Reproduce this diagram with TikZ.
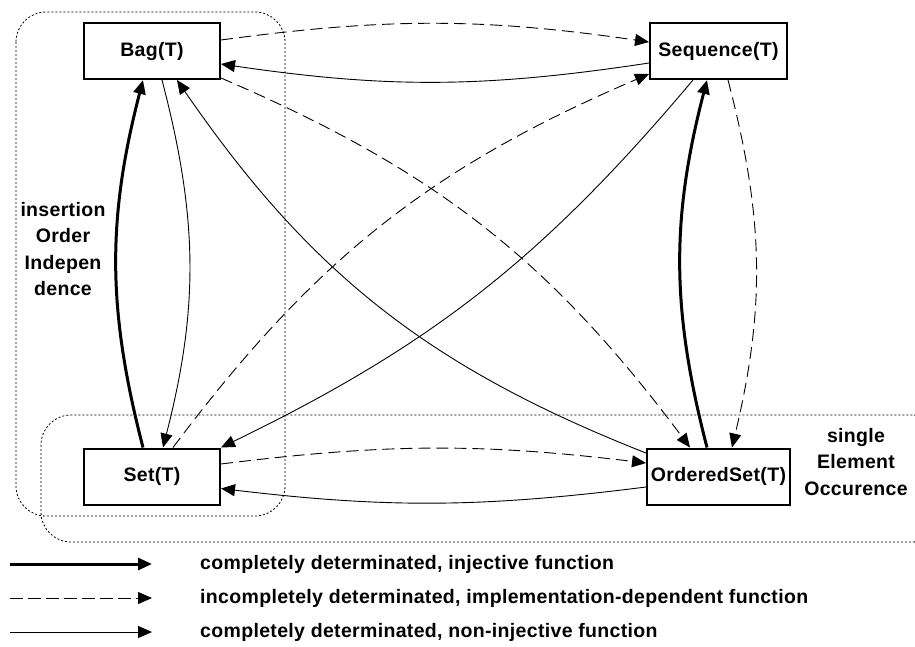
\documentclass[tikz,border=0pt]{standalone}
\usepackage{fontspec}
\setmainfont[LetterSpace=1.7]{Liberation Sans}
\usetikzlibrary{arrows.meta}
\begin{document}
\begin{tikzpicture}[x=1pt,y=-1pt,
  typebox/.style={draw, line width=2pt, minimum width=136pt, minimum height=56pt,
    inner sep=0pt, font=\bfseries\fontsize{19.5}{26}\selectfont},
  tip/.style={-{Triangle[length=14pt,width=12pt]}},
  inj/.style={tip, line width=3pt},
  impl/.style={tip, line width=0.9pt, dash pattern=on 12pt off 6pt},
  noninj/.style={tip, line width=0.9pt},
  groupbox/.style={line width=0.8pt, dash pattern=on 2pt off 2pt, rounded corners=30pt},
  note/.style={align=center, inner sep=0pt, font=\bfseries\fontsize{19.5}{26.5}\selectfont},
  legendtext/.style={anchor=west, inner sep=0pt, font=\bfseries\fontsize{19.5}{24}\selectfont}]

\useasboundingbox (0,0) rectangle (915,646);

% grouping frames
\draw[groupbox] (16,12) rectangle (285,516);
\draw[groupbox] (41,415) rectangle (942,542);

% collection types
\node[typebox] (bag) at (152,51) {Bag(T)};
\node[typebox, minimum width=137pt] (seq) at (718.5,51) {Sequence(T)};
\node[typebox] (set) at (152,476.5) {Set(T)};
\node[typebox, minimum width=143pt] (oset) at (718.5,476.5) {OrderedSet(T)};

% group labels
\node[note] (ins) at (63,249) {insertion\\Order\\Indepen\\dence};
\node[note] (sgl) at (856,462) {single\\Element\\Occurence};

% top pair
\draw[impl]   ([yshift=11pt]bag.east) to[bend left=8] ([yshift=9pt]seq.west);
\draw[noninj] ([yshift=-12pt]seq.west) to[bend left=8.5] ([yshift=-13pt]bag.east);

% bottom pair
\draw[impl]   ([yshift=12.5pt]set.east) to[bend left=7] ([yshift=13.5pt]oset.west);
\draw[noninj] ([yshift=-10.5pt]oset.west) to[bend left=7] ([yshift=-12pt]set.east);

% left pair
\draw[inj]    ([xshift=-9pt]set.north) to[bend left=14.5] ([xshift=-9pt]bag.south);
\draw[noninj] ([xshift=10pt]bag.south) to[bend left=14.5] ([xshift=11pt]set.north);

% right pair
\draw[inj]    ([xshift=-11.5pt]oset.north) to[bend left=14.5] ([xshift=-11.5pt]seq.south);
\draw[impl]   ([xshift=9.5pt]seq.south) to[bend left=14] ([xshift=13.5pt]oset.north);

% diagonals
\draw[impl]   ([yshift=2pt]bag.south east) to[bend left=15] ([xshift=-28.5pt]oset.north);
\draw[noninj] ([yshift=23.5pt]oset.west) to[bend left=17] ([xshift=25pt]bag.south);
\draw[impl]   ([xshift=21pt]set.north) to[bend left=15] ([yshift=6pt]seq.south west);
\draw[noninj] ([xshift=-25.5pt]seq.south) to[bend left=12] (set.north east);

% legend
\coordinate (k1a) at (10,564);  \coordinate (k1b) at (152,564);
\coordinate (k2a) at (10,598);  \coordinate (k2b) at (152,598);
\coordinate (k3a) at (10,632);  \coordinate (k3b) at (152,632);
\draw[inj]    (k1a) -- (k1b);
\draw[impl, dash pattern=on 13pt off 5pt] (k2a) -- (k2b);
\draw[noninj] (k3a) -- (k3b);
\node[legendtext] (t1) at (200,564) {completely determinated, injective function};
\node[legendtext] (t2) at (200,598) {incompletely determinated, implementation-dependent function};
\node[legendtext] (t3) at (200,632) {completely determinated, non-injective function};
\end{tikzpicture}
\end{document}
